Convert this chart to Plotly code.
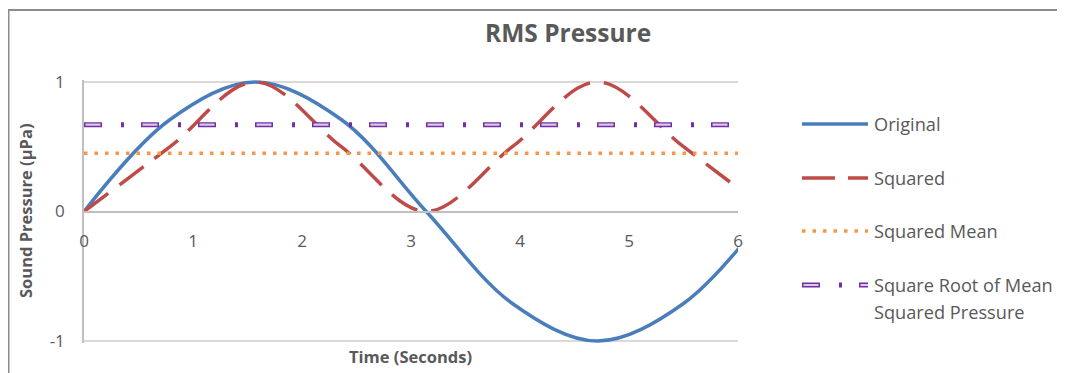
import plotly.graph_objects as go

# ---- data ----
time = [0, 0.79, 1.57, 2.36, 3.14, 3.93, 4.71, 5.50, 6.28]
original = [0, 0.71, 1.0, 0.71, 0, -0.71, -1.0, -0.71, 0]
squared = [0, 0.5, 1.0, 0.5, 0, 0.5, 1.0, 0.5, 0]
line_time = [0, 6.28]
squared_mean = [0.45, 0.45]
rms = [0.67, 0.67]
x_ticks = [0, 1, 2, 3, 4, 5, 6]
y_ticks = [-1, 0, 1]
y_tick_text = ["-1", "0", "1"]
legend_names = ["Original", "Squared", "Squared Mean", "Square Root of Mean", "Squared Pressure"]

BLUE = "#4A7EBB"
RED = "#BE4B48"
ORANGE = "#F79646"
PURPLE = "#7030A0"
LAVENDER = "#DCC8EC"
TXT = "#595959"
FONT = "Open Sans"

OFF = 8  # page body margin
W, H = 1065 - OFF, 373 - OFF
ML = 84 - OFF
MR = W - (738 - OFF)
MT = 80 - OFF
MB = H - (343 - OFF)
PW, PH = W - ML - MR, H - MT - MB


def px_x(p):  # page pixel -> paper x
    return (p - OFF - ML) / PW


def px_y(p):  # page pixel -> paper y
    return (H - MB - (p - OFF)) / PH


fig = go.Figure()
fig.add_trace(go.Scatter(x=time, y=original, mode="lines", name="Original",
                         line=dict(color=BLUE, width=3.5, shape="spline", smoothing=1)))
fig.add_trace(go.Scatter(x=time, y=squared, mode="lines", name="Squared",
                         line=dict(color=RED, width=3.5, shape="spline", smoothing=1, dash="30px,14px")))
fig.add_trace(go.Scatter(x=line_time, y=squared_mean, mode="lines", name="Squared Mean",
                         line=dict(color=ORANGE, width=3.5, dash="3.5px,7px")))
fig.add_trace(go.Scatter(x=line_time, y=rms, mode="lines", name="Square Root of Mean Squared Pressure",
                         line=dict(color=PURPLE, width=5, dash="18px,19px,3px,17px")))
off = 1.5 * 6 / PW
fig.add_trace(go.Scatter(x=[line_time[0] + off, line_time[1]], y=rms, mode="lines", showlegend=False,
                         hoverinfo="skip", line=dict(color=LAVENDER, width=2.2, dash="15px,42px")))

shapes = []
# chart border (cropped on the right/bottom)
shapes.append(dict(type="rect", xref="paper", yref="paper", x0=px_x(8.5), x1=px_x(1300),
                   y0=px_y(600), y1=px_y(10), line=dict(color="#8C8C8C", width=2), layer="below"))

# manual legend
lx0, lx1 = px_x(802), px_x(868)
rows = [124, 178, 231, 285]
shapes.append(dict(type="line", xref="paper", yref="paper", x0=lx0, x1=lx1, y0=px_y(rows[0]), y1=px_y(rows[0]),
                   line=dict(color=BLUE, width=3.5)))
shapes.append(dict(type="line", xref="paper", yref="paper", x0=lx0, x1=lx1, y0=px_y(rows[1]), y1=px_y(rows[1]),
                   line=dict(color=RED, width=3.5, dash="33px,13px")))
shapes.append(dict(type="line", xref="paper", yref="paper", x0=lx0, x1=lx1, y0=px_y(rows[2]), y1=px_y(rows[2]),
                   line=dict(color=ORANGE, width=3.5, dash="3.5px,7px")))
shapes.append(dict(type="line", xref="paper", yref="paper", x0=lx0, x1=lx1, y0=px_y(rows[3]), y1=px_y(rows[3]),
                   line=dict(color=PURPLE, width=5, dash="18px,19px,3px,17px")))
shapes.append(dict(type="line", xref="paper", yref="paper", x0=px_x(803.5), x1=lx1, y0=px_y(rows[3]), y1=px_y(rows[3]),
                   line=dict(color=LAVENDER, width=2.2, dash="15px,42px")))

annotations = []
text_rows = [124, 178, 231, 285, 312]
for name, r in zip(legend_names, text_rows):
    annotations.append(dict(text=name, xref="paper", yref="paper", x=px_x(872), y=px_y(r),
                            xanchor="left", yanchor="middle", showarrow=False,
                            font=dict(family=FONT, size=18.2, color=TXT)))
annotations.append(dict(text="<b>RMS Pressure</b>", xref="paper", yref="paper", x=px_x(568), y=px_y(33),
                        xanchor="center", yanchor="middle", showarrow=False,
                        font=dict(family=FONT, size=24.5, color=TXT)))
annotations.append(dict(text="<b>Time (Seconds)</b>", xref="paper", yref="paper", x=px_x(410), y=px_y(356),
                        xanchor="center", yanchor="middle", showarrow=False,
                        font=dict(family=FONT, size=16.5, color=TXT)))
annotations.append(dict(text="<b>Sound Pressure (µPa)</b>", xref="paper", yref="paper", x=px_x(25), y=px_y(211),
                        xanchor="center", yanchor="middle", showarrow=False, textangle=-90,
                        font=dict(family=FONT, size=16.5, color=TXT)))

fig.update_layout(
    width=W, height=H,
    margin=dict(l=ML, r=MR, t=MT, b=MB, pad=0, autoexpand=False),
    paper_bgcolor="white", plot_bgcolor="white",
    showlegend=False,
    shapes=shapes,
    annotations=annotations,
    xaxis=dict(range=[0, 6], tickvals=x_ticks, showgrid=False, zeroline=False,
               showline=True, linecolor="#BFBFBF", linewidth=1.5,
               anchor="free", position=0.5, ticks="", ticklabelstandoff=14,
               tickfont=dict(family=FONT, size=17, color=TXT)),
    yaxis=dict(range=[-1.015, 1.015], tickvals=y_ticks, ticktext=y_tick_text,
               showgrid=True, gridcolor="#D9D9D9", gridwidth=1.5,
               zeroline=True, zerolinecolor="#BFBFBF", zerolinewidth=1.5,
               showline=True, linecolor="#BFBFBF", linewidth=1.5, ticks="", ticklabelstandoff=14,
               tickfont=dict(family=FONT, size=17, color=TXT)),
)

fig.write_html("out.html")
